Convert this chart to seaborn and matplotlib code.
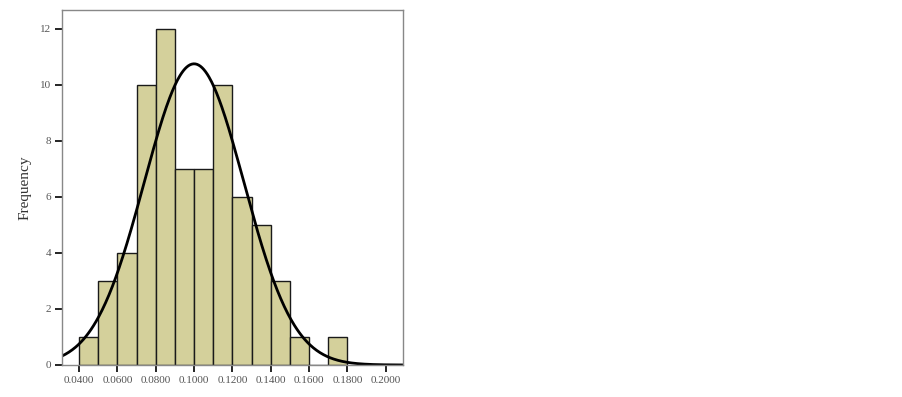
import numpy as np
import matplotlib
matplotlib.use("Agg")
import matplotlib.pyplot as plt
import seaborn as sns

# Histogram data
bin_edges = [0.04, 0.05, 0.06, 0.07, 0.08, 0.09, 0.10, 0.11, 0.12, 0.13, 0.14, 0.15, 0.16, 0.17, 0.18]
counts = [1, 3, 4, 10, 12, 7, 7, 10, 6, 5, 3, 1, 0, 1]
# Normal curve fit parameters
fit_mean = 0.1000
fit_sd = 0.0260
n_total = 70
bin_width = 0.01

x_ticks = [0.04, 0.06, 0.08, 0.10, 0.12, 0.14, 0.16, 0.18, 0.20]
x_tick_labels = ["0.0400", "0.0600", "0.0800", "0.1000", "0.1200", "0.1400", "0.1600", "0.1800", "0.2000"]
y_ticks = [0, 2, 4, 6, 8, 10, 12]

sns.set_style("white")
plt.rcParams['font.family'] = ['Liberation Serif', 'DejaVu Serif']

fig = plt.figure(figsize=(9.03, 3.97), dpi=100)
ax = fig.add_axes([62/903, 32/397, 341/903, 355/397])

centers = [(a + b) / 2 for a, b in zip(bin_edges[:-1], bin_edges[1:])]
sns.histplot(x=centers, weights=counts, bins=bin_edges, ax=ax,
             color="#D4D09B", edgecolor="#1a1a1a", linewidth=1.0, alpha=1.0)

xs = np.linspace(0.0311, 0.209, 400)
ys = n_total * bin_width / (fit_sd * np.sqrt(2 * np.pi)) * np.exp(-0.5 * ((xs - fit_mean) / fit_sd) ** 2)
sns.lineplot(x=xs, y=ys, ax=ax, color="black", linewidth=2.0)

ax.set_xlim(0.0311, 0.209)
ax.set_ylim(0, 12.66)
ax.set_xticks(x_ticks)
ax.set_xticklabels(x_tick_labels)
ax.set_yticks(y_ticks)
ax.tick_params(axis='both', direction='out', length=5, width=1.2, color='black',
               labelsize=8, labelcolor='#555555', left=True, bottom=True, pad=3)
for s in ax.spines.values():
    s.set_color('#888888')
    s.set_linewidth(1.0)
ax.set_xlabel("")
ax.set_ylabel("Frequency", fontsize=11, color='#333333', labelpad=6)

fig.savefig("out.png", dpi=100)
